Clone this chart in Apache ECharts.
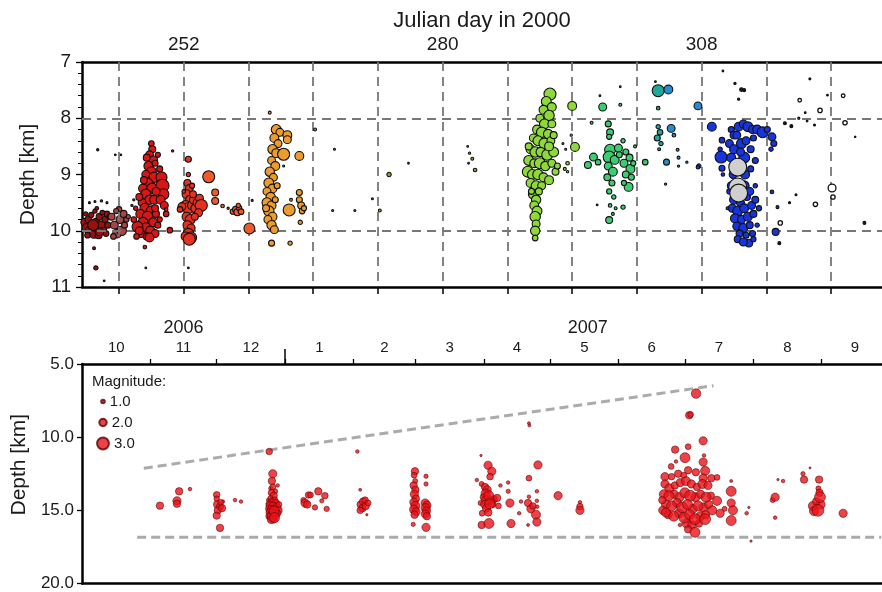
<!DOCTYPE html>
<html><head><meta charset="utf-8">
<script src="https://cdn.jsdelivr.net/npm/echarts@6/dist/echarts.min.js"></script>
<style>html,body{margin:0;padding:0;background:#fff}#c{width:882px;height:592px}</style>
</head><body><div id="c"></div>
<script>
// ---------- TOP PANEL (Julian day in 2000) ----------
const dayTicks = [245,252,259,266,273,280,287,294,301,308,315,322];
const dayLabels = [252,280,308];
const depthGuides = [8,10];
// [day, depth km, magnitude]
const clusterA = [[241.3,9.85,2],[241.5,9.95,2.2],[241.7,9.8,1.8],[241.9,10.0,2.5],[242.1,9.9,2],[242.3,10.05,2.3],[242.5,9.85,2],[242.7,9.95,2.4],[242.9,9.75,1.8],[243.1,9.9,2],[243.3,10.0,1.8],[243.5,9.8,1.6],[243.7,9.7,1.5],[241.6,10.08,1.5],[242.0,9.72,1.4],[242.4,9.65,1.2],[242.8,10.08,1.8],[243.2,9.68,1.3],[243.8,9.9,1.6],[244.0,9.75,1.4],[241.4,9.7,1.2],[242.6,9.6,1.0],[243.6,10.05,1.5],[242.2,9.9,2.6],[242.9,10.02,2.0],[241.8,9.5,0.5],[242.4,9.48,0.5],[243.1,9.47,0.6],[243.7,9.5,0.5],[242.7,8.56,0.6],[242.3,10.31,0.8],[242.5,10.66,1.2],[243.4,10.89,0.4],[244.6,8.65,0.4],[245.2,8.65,0.4]];
const clusterB = [[244.2,9.75,1.8],[244.5,9.9,2],[244.8,10.05,2.2],[245.1,9.8,2],[245.3,10.0,2.3],[245.5,9.7,1.8],[244.4,10.1,1.5],[245.0,9.62,1.5],[245.6,9.9,1.6],[244.7,9.65,1.4],[245.8,9.8,1.4],[246.0,9.75,1.2]];
const clusterC = [[248.5,8.45,1.5],[248.6,8.55,1.8],[248.3,8.65,2],[248.7,8.75,2.2],[248.2,8.85,2.3],[248.5,8.95,2.4],[247.9,9.0,2],[248.8,9.05,2.5],[248.1,9.15,2.4],[247.6,9.25,2.2],[248.6,9.25,2.6],[247.9,9.35,2.5],[248.3,9.45,2.3],[247.5,9.5,2],[248.8,9.45,2.2],[247.8,9.6,2.4],[248.5,9.65,2.5],[247.3,9.7,2.2],[248.1,9.75,2.6],[247.6,9.85,2.4],[248.7,9.85,2.2],[247.9,9.95,2.5],[248.4,10.0,2.3],[247.4,10.05,2],[248.0,10.1,1.8],[249.0,9.7,1.8],[249.2,9.9,1.6],[247.0,9.93,2.6],[246.6,9.8,1.5],[246.8,9.6,1.2],[249.6,9.05,2.6],[249.7,9.2,3],[249.8,9.35,2.6],[249.5,9.45,2.2],[249.9,9.55,2],[250.1,9.7,1.5],[249.4,8.9,1.6],[249.2,8.65,1.4],[250.8,8.58,0.6],[247.8,10.29,1],[247.9,10.66,0.4],[250.5,9.99,1.5],[250.1,9.62,1],[246.6,9.45,0.6],[246.4,9.55,0.6],[248.0,8.7,1.8],[248.9,8.8,1.6],[247.7,9.1,1.8],[249.0,9.3,2],[247.2,9.4,1.8],[248.9,9.6,1.8],[247.2,10.0,2],[248.9,10.05,2],[248.3,10.12,2.2],[246.9,10.1,1.5],[249.4,9.8,1.4]];
const clusterD = [[252.5,8.73,1.6],[252.5,9.0,1.2],[252.4,9.15,1.8],[252.6,9.25,2],[252.3,9.35,2.2],[252.7,9.45,2.3],[252.2,9.55,2.4],[252.5,9.6,2.6],[252.9,9.55,2.2],[252.3,9.75,2.2],[252.7,9.8,2.4],[252.4,9.9,2.2],[252.8,9.95,2],[252.5,10.05,2.5],[252.2,10.1,2.2],[252.8,10.12,2.6],[252.6,10.15,2.8],[251.8,9.57,2],[251.6,9.62,1.5],[253.1,9.45,2.2],[253.3,9.6,2.4],[253.5,9.5,2.2],[253.7,9.42,2],[253.9,9.55,2.8],[253.6,9.68,2],[253.2,9.75,1.8],[253.0,9.35,1.8],[252.9,9.2,1.4],[252.5,10.66,0.4],[252.0,9.3,1]];
const clusterE = [[254.7,9.04,2.8],[255.4,9.32,1.8],[255.4,9.47,1.8],[256.2,9.56,1],[257.3,9.66,1.4],[257.6,9.62,1.6],[257.8,9.67,1.8],[258.0,9.6,1.4],[258.2,9.66,1.5],[257.9,9.55,1.2],[259.1,9.96,2.6],[259.4,9.46,0.5],[256.8,9.6,0.6]];
const clusterF = [[262.0,8.2,2.4],[262.4,8.25,2],[261.8,8.35,2.2],[262.2,8.45,2],[261.6,8.55,2.3],[262.0,8.62,2.2],[262.8,8.64,2.8],[261.5,8.75,2],[261.9,8.85,2.2],[261.3,8.95,2.3],[261.7,9.05,2],[261.2,9.15,2.4],[261.6,9.25,2.2],[261.0,9.3,2],[261.4,9.4,2.3],[261.0,9.5,2.4],[261.5,9.55,2.2],[261.2,9.65,2.5],[261.6,9.75,2.2],[261.1,9.8,2],[261.5,9.9,2.3],[261.8,9.98,2],[260.9,9.6,1.8],[261.9,9.45,1.6],[262.1,9.2,1.6],[263.2,8.3,2.2],[263.2,8.38,2],[264.5,8.67,2.2],[263.4,9.63,2.8],[264.5,9.32,1.6],[264.5,9.45,1.6],[264.7,9.55,1.8],[264.8,9.65,1.5],[265.0,9.6,1.4],[264.6,9.85,1.2],[261.5,10.22,1.6],[263.5,10.22,1.2],[261.3,7.9,0.8],[263.6,9.45,0.8],[262.8,8.85,0.5]];
const clusterG = [[266.2,8.2,0.8],[268.3,8.55,0.5],[268.1,9.64,0.5],[270.5,9.64,0.5],[272.4,9.43,0.5],[273.2,9.64,0.8],[274.2,9.0,1.2],[276.3,8.8,0.4],[282.7,8.5,0.4],[282.9,8.62,0.6],[283.2,8.72,0.8],[283.5,8.92,1],[282.8,8.8,0.4]];
const clusterH = [[291.6,7.57,2.8],[291.2,7.7,2.4],[291.8,7.8,2.2],[290.9,7.85,2.2],[291.5,7.95,2.5],[290.5,8.0,2],[291.0,8.1,2.4],[291.8,8.1,2],[290.2,8.2,2.2],[290.7,8.25,2.5],[291.4,8.28,2.3],[289.8,8.35,2],[290.3,8.4,2.4],[291.0,8.45,2.6],[291.7,8.4,2],[289.5,8.55,2.2],[290.0,8.6,2.5],[290.6,8.6,2.3],[291.3,8.65,2.6],[292.0,8.6,2.4],[289.3,8.75,2.4],[289.9,8.8,2.2],[290.5,8.8,2.6],[291.1,8.85,2.3],[291.8,8.8,2],[289.2,8.95,2.6],[289.7,9.0,2.4],[290.3,9.0,2.5],[290.9,9.05,2.2],[291.5,9.1,2.2],[292.2,8.95,1.8],[289.5,9.15,2.2],[290.1,9.2,2.4],[290.7,9.2,2],[289.3,8.5,1.8],[291.5,8.5,2.2],[292.0,8.3,1.8],[292.4,8.85,1.6],[289.8,9.35,2.4],[290.1,9.45,2.3],[289.9,9.55,2.2],[290.2,9.65,2.4],[290.0,9.75,2.5],[290.1,9.88,2],[290.0,10.0,2.3],[290.0,10.13,1.5],[290.4,9.3,1.8],[289.6,9.3,1.6],[294.0,7.78,2.2],[294.3,8.51,2.2],[293.5,8.8,1],[293.2,8.9,0.8],[293.5,8.95,0.6],[293.0,8.45,0.5],[293.3,8.55,0.5],[293.9,8.3,0.6]];
const clusterI = [[297.3,7.8,2],[297.0,7.6,0.4],[299.2,7.44,0.4],[299.2,7.76,0.8],[296.1,8.08,0.8],[297.9,8.1,1.6],[298.1,8.25,1.8],[298.0,8.33,1.4],[298.1,8.56,2.6],[298.0,8.69,2.8],[298.6,8.74,2.2],[299.0,8.53,2],[296.3,8.69,2],[295.7,8.83,1.8],[296.8,8.78,1.5],[297.9,8.85,2],[298.4,8.95,2.2],[297.8,9.05,1.8],[298.3,9.15,1.6],[298.0,9.3,1.4],[298.5,9.4,1.2],[298.1,9.55,1],[298.4,9.7,0.8],[299.5,8.4,1.2],[299.8,8.6,1.6],[300.2,8.7,1.8],[299.6,8.8,2],[300.3,8.9,2.2],[299.8,9.0,1.8],[300.4,9.05,1.6],[300.1,9.22,2.2],[299.6,9.15,1.4],[300.6,8.8,1.4],[298.0,9.81,1.8],[299.5,9.58,1.2],[296.7,9.54,0.4],[301.9,8.78,1.5],[300.8,8.5,0.8],[299.1,8.65,1.6],[298.7,9.6,0.8]];
const clusterJ = [[303.3,7.51,2.8],[303.3,7.82,1],[303.0,7.35,0.4],[303.3,8.15,1.2],[303.5,8.25,1.5],[303.2,8.35,1.6],[303.6,8.45,1.2],[303.4,8.55,0.8]];
const clusterK = [[304.4,7.49,2.2],[304.7,8.18,2],[305.0,8.3,1],[304.2,8.78,1.6],[305.4,8.56,0.8],[306.4,8.78,0.6],[304.1,9.17,0.6],[305.5,8.85,0.6],[305.5,8.7,0.8],[307.6,7.78,2],[307.7,8.85,1.2]];
const clusterL = [[309.1,8.15,2.2],[310.2,8.39,1.5],[310.1,8.69,2.8],[310.2,8.89,1.6],[310.0,8.55,1.2],[310.3,9.0,1],[307.6,8.87,1],[311.2,8.2,1.6],[311.5,8.3,2],[312.0,8.15,2.2],[312.5,8.1,2],[313.0,8.15,2.4],[313.5,8.2,2],[314.0,8.2,2.2],[314.6,8.25,2.6],[315.1,8.2,1.6],[315.6,8.33,2],[315.8,8.45,1.6],[315.5,8.55,1.2],[311.0,8.45,2],[311.5,8.55,2.2],[312.3,8.45,2.4],[312.8,8.4,2],[313.3,8.55,1.8],[311.2,8.7,2.2],[312.6,8.7,2.6],[311.4,9.0,2],[312.7,9.0,2.2],[313.3,8.9,1.6],[311.2,9.2,2],[312.6,9.2,2.4],[311.5,9.45,2.2],[312.2,9.5,2],[312.9,9.4,1.8],[311.3,9.6,2],[311.9,9.65,2.4],[312.6,9.6,2.2],[313.4,9.55,2],[311.6,9.78,2.2],[312.3,9.8,2],[313.0,9.75,2.2],[313.6,9.7,1.8],[311.8,9.92,2],[312.5,9.95,2.2],[313.2,9.9,1.8],[312.1,10.05,1.8],[312.8,10.08,1.6],[313.1,10.22,2],[316.0,10.02,1.8],[315.6,9.31,1],[316.2,9.58,0.8],[313.8,9.2,1.2],[314.0,9.9,1.2],[311.0,9.3,1.4],[310.8,9.6,0.8],[311.8,8.3,2],[313.6,8.35,1.6],[311.7,8.9,2.4],[312.2,8.6,2],[313.8,8.75,1.6],[311.6,9.3,2],[313.2,9.3,2],[312.0,9.15,2.2],[313.8,9.45,1.8],[311.9,10.15,1.8],[312.5,10.2,2],[313.5,10.05,1.6],[314.2,9.6,1.4],[313.6,10.15,1.4]];
const clusterGray = [[311.9,8.87,3.8],[311.9,9.22,3.8],[312.0,9.33,3.8]];
const clusterWhite = [[318.6,7.68,1],[319.7,7.3,0.4],[320.8,7.86,1.2],[323.3,7.6,1],[323.5,8.08,1.2],[322.1,9.24,2],[322.2,9.4,1.2],[320.3,9.53,1.2],[316.5,9.86,1.2],[318.5,8.0,0.5]];
const clusterDark = [[310.3,7.16,0.4],[311.6,7.38,0.6],[312.3,7.49,1],[312.6,7.5,0.8],[312.0,7.66,0.6],[316.4,10.22,0.8],[325.6,9.86,0.8],[324.6,8.33,0.3],[321.6,7.59,0.4],[317.0,8.09,0.8],[317.7,8.14,0.8],[318.2,9.36,0.5],[319.2,7.9,0.4],[319.4,8.05,0.4],[320.2,8.12,0.5],[317.5,9.5,0.5]];

// ---------- BOTTOM PANEL (days since 2006-10-01) ----------
const monthStarts = [0,31,61,92,123,151,182,212,243,273,304,335,365];
const monthNames = ['10','11','12','1','2','3','4','5','6','7','8','9'];
const yearBreak = [92];
const yearLabelPos = [46,229];
const yearNames = ['2006','2007'];
const magLegend = ['1.0','2.0','3.0'];
const upperTrend = [[28,12.12],[286,6.48]];
const lowerTrend = [[25,16.84],[362,16.84]];
// [day since 2006-10-01, depth km, magnitude]
const quakes0607 = [[35.3,14.68,2],[43,14.35,2.2],[43,14.55,2],[44,13.7,2],[48.9,13.55,1],
[61,13.94,1.8],[61,14.2,1.5],[61.2,14.6,2],[62.5,14.75,2],[61.5,15.0,2],[63.4,14.85,2],[62.8,14.45,1.6],[61,15.36,2],[62.5,16.2,2],[63.8,14.4,1],[69.3,14.3,1],[72,14.4,1],
[84.8,10.98,1.8],[86.4,12.5,2.2],[86.0,13.0,2],[86.4,13.4,1.6],[88.6,13.3,1],[85.8,13.8,1.8],[86.8,14.0,2],[85.4,14.2,1.6],[87.2,14.3,1.8],[86.0,14.45,2],[84.6,14.55,1.6],[87.8,14.5,2],[85.2,14.7,2.2],[86.6,14.75,2.4],[88.2,14.8,2.2],[84.8,14.9,2],[85.9,15.0,2.4],[87.0,15.05,2.6],[88.6,15.0,2.4],[85.2,15.15,2.2],[86.4,15.25,2.4],[87.6,15.3,2.2],[84.9,15.4,2],[86.0,15.45,2.4],[87.2,15.5,2.6],[86.6,15.6,2.2],[85.6,15.65,2],[88.8,15.2,1.6],[89.2,14.6,1.6],[84.5,14.3,1.2],[87.5,13.7,1.4],[85.5,13.5,1.2],
[100.3,14.3,1.5],[101,14.5,2.2],[102,14.6,2],[102.6,13.95,1.8],[107,13.7,2],[105.5,14.8,1.5],[110,14.0,1.8],[108.6,14.35,1.2],[110.8,14.9,1.5],[103.5,13.95,1.6],
[124.7,10.98,1],[126,13.6,0.8],[126.2,14.6,2],[127.3,14.4,2],[128.2,14.3,1.8],[127,14.85,2],[126,15.0,1.8],[128.5,14.7,2],[129.6,14.5,1.6],[129,15.3,0.6],
[150.8,12.33,2],[150.4,12.6,1.6],[150.9,13.0,1.4],[150.2,13.3,2],[151.0,13.6,2],[150.5,13.9,2.2],[151.2,14.2,2],[150.3,14.45,2.2],[151.0,14.7,2.4],[150.4,14.95,2.4],[151.3,15.1,2.2],[150.6,15.3,2],[150.0,15.96,1.2],
[155.8,12.67,1.2],[155.8,13.2,1.2],[155.4,14.5,2.2],[156.2,14.65,2.2],[155.6,14.85,2.4],[156.0,15.05,2.2],[155.5,15.25,2.2],[156.2,15.4,2],[155.8,16.16,2.2],
[180.7,11.25,0.6],[178.8,12.93,1],[183.9,11.92,2.2],[185.6,12.33,2.2],[184.8,12.7,1.8],[181,13.2,1.4],[182.5,13.4,2],[183.5,13.6,2.2],[182.8,13.85,2.4],[184.2,14.0,2.6],[181.8,14.1,1.8],[183.0,14.3,2.4],[185.0,14.3,2.2],[186.5,14.25,2],[188.0,14.15,2],[182.4,14.6,2.2],[184.6,14.55,2.6],[186.0,14.6,1.8],[180.5,14.5,1.4],[183.2,14.85,2.2],[181.2,15.2,1.6],[184.0,15.15,2],[181,16.0,2],[184.3,15.9,2.6],[189.5,13.3,1],[188.6,14.7,1.6],
[193,13.1,1],[193,13.7,1.2],[193.8,14.5,2.2],[194.3,15.9,2.2],[198,15.2,1],[198.8,14.4,1],
[202.4,9.05,0.8],[202.6,9.2,0.8],[202.4,12.8,1.6],[202.4,14.07,1],[202,14.5,2],[203.3,14.9,2.2],[204.2,14.7,1.8],[206,13.7,1],[206,14.35,1],[205.6,15.3,2.4],[206,15.8,2.2],[206.5,11.9,2.2],[202,16.0,0.8],[206.2,14.75,1],
[215.6,14.0,2.2],[225.5,14.45,1],[225.5,14.75,1.8],[225.5,15.0,2.2],
[278.1,7.02,2.5],[275,8.5,2],[275.6,8.45,1.6],[281.3,10.25,2.2],[274.5,10.65,1.6],[268.6,10.85,2],[273.1,11.4,2.6],[281.7,11.25,1],[269,11.66,1],[281.3,11.7,2.2],[266.8,12.0,1.6],[274.5,12.26,2],[282.2,12.3,2.4],[264,12.7,2.2],[281.3,12.8,2.2],
[264.0,13.2,2.2],[266.0,13.5,2.4],[268.5,13.3,2],[271.0,13.1,2.2],[273.5,13.0,2.4],[276.0,13.2,2.2],[278.5,13.4,2],[281.0,13.2,2.4],[283.5,13.3,2.2],[263.5,13.9,2.4],[265.8,14.0,2.6],[268.2,13.9,2.2],[270.6,14.1,2.4],[273.0,13.8,2.6],[275.4,14.0,2.8],[277.8,14.1,2.4],[280.2,13.9,2.2],[282.6,14.1,2.6],[284.8,14.0,2],[264.5,14.6,2.4],[267.0,14.7,2.6],[269.4,14.5,2.4],[271.8,14.8,2.8],[274.2,14.6,2.6],[276.6,14.9,2.4],[279.0,14.7,2.6],[281.4,14.8,2.4],[283.8,14.6,2.2],[265.5,15.3,2.2],[268.0,15.4,2.6],[270.4,15.2,2.4],[272.8,15.5,2.8],[275.2,15.3,2.6],[277.6,15.6,2.8],[280.0,15.4,2.4],[282.4,15.3,2.2],[273.8,15.9,2.4],[276.2,16.0,2.2],[279.4,15.9,2],[267.0,12.7,1.8],[270.0,12.5,2],[272.5,12.6,1.6],[278.0,12.4,2],[285.0,12.8,2],[262.8,14.3,2],[285.4,15.0,2.4],[263.0,15.0,2.2],
[277.6,16.5,2.6],[274.5,16.3,2],[270.8,16.0,1],[282.2,15.6,2.8],[264.5,15.15,2.4],
[294,13.0,0.8],[294,13.7,2.6],[294,14.5,2.2],[294.8,15.0,2.4],[294,15.7,2.6],[289,15.2,2.2],[287.6,14.35,2.4],[287.6,12.75,1.6],[291,14.9,1.4],[301,15.2,1],[302,14.8,0.6],[303,17.1,0.6],
[313.9,14.1,2.2],[312.8,14.3,1.4],[313.9,15.5,1],[315.2,12.9,0.6],[317.5,13.0,1],
[326.5,12.5,1.2],[327,12.9,2],[329.7,12.1,0.5],[333.8,12.9,2],[333.5,13.5,1.4],[334.2,14.1,2.8],[334.0,13.8,2],[331,14.7,2.4],[333.3,15.0,3],[331.5,15.05,2.4],[334.5,14.6,2.4],[332.5,14.4,2],[344.7,15.2,2.2]];

// ---------- build ----------
const FONT = 'Liberation Sans, Arial, sans-serif';
const TXT = '#1a1a1a';
const topSize = v => 1 + 2.6 * Math.pow(v[2], 1.4);
const botSizeMag = m => 1 + 2.6 * Math.pow(m, 1.3);
const monthMid = monthStarts.slice(0, 12).map((s, i) => (s + monthStarts[i + 1]) / 2);
const nearestIdx = (arr, v) => { let b = 0; arr.forEach((a, i) => { if (Math.abs(a - v) < Math.abs(arr[b] - v)) b = i; }); return b; };

const topClusters = [
  [clusterA, '#9a1010'], [clusterB, '#a84444'], [clusterC, '#d81616'], [clusterD, '#e43220'],
  [clusterE, '#f05a2a'], [clusterF, '#ec9c2c'], [clusterG, '#9a9a3a'], [clusterH, '#8ed83a'],
  [clusterI, '#3ccc72'], [clusterJ, '#1fa89a'], [clusterK, '#2a8ad0'], [clusterL, '#1834dc'],
  [clusterGray, '#cfcfcf'], [clusterWhite, '#ffffff'], [clusterDark, '#1a1a1a']
];

const series = [];
series.push({
  type: 'line', xAxisIndex: 0, yAxisIndex: 0, data: [], z: 1, silent: true,
  markLine: {
    silent: true, symbol: ['none', 'none'], label: { show: false },
    lineStyle: { type: [9, 6], color: '#777', width: 1.8 },
    data: dayTicks.map(d => ({ xAxis: d })).concat(depthGuides.map(v => ({ yAxis: v })))
  }
});
topClusters.forEach(([arr, col], i) => {
  series.push({
    type: 'scatter', xAxisIndex: 0, yAxisIndex: 0, z: 3 + i, data: arr,
    symbolSize: topSize,
    itemStyle: { color: col, borderColor: '#101010', borderWidth: col === '#ffffff' ? 1.3 : 1.1, opacity: 1 }
  });
});
series.push({ type: 'line', xAxisIndex: 2, yAxisIndex: 1, data: upperTrend, symbol: 'none', z: 2, silent: true,
  lineStyle: { type: [9, 5], color: '#ababab', width: 3 } });
series.push({ type: 'line', xAxisIndex: 2, yAxisIndex: 1, data: lowerTrend, symbol: 'none', z: 2, silent: true,
  lineStyle: { type: [9, 5], color: '#ababab', width: 3 } });
const magClass = m => (m < 1.5 ? 0 : (m < 2.5 ? 1 : 2));
magLegend.forEach((name, k) => {
  series.push({
    name, type: 'scatter', xAxisIndex: 2, yAxisIndex: 1, z: 5,
    data: quakes0607.filter(q => magClass(q[2]) === k),
    symbolSize: v => botSizeMag(v[2]),
    itemStyle: { color: '#e8141a', borderColor: '#5a0000', borderWidth: 0.7 }
  });
});

const legendCenters = [402, 423, 444];
const legends = magLegend.map((name, k) => {
  const s = botSizeMag(parseFloat(name));
  return {
    data: [name], left: 102 - s / 2, top: legendCenters[k] - 8, icon: 'circle',
    itemWidth: s, itemHeight: s, selectedMode: false, padding: 0,
    textStyle: { fontSize: 15, fontFamily: FONT, color: TXT, padding: [0, 0, 0, 0] }
  };
});

const thickLine = { show: true, lineStyle: { color: '#000', width: 2.5 } };

const option = {
  animation: false,
  backgroundColor: '#fff',
  title: { text: 'Magnitude:', left: 92, top: 374, padding: 0,
    textStyle: { fontSize: 15, fontWeight: 'normal', fontFamily: FONT, color: TXT } },
  legend: legends,
  grid: [
    { left: 82, top: 62, right: 0, height: 225 },
    { left: 82, top: 364, right: 0, height: 223 }
  ],
  xAxis: [
    { gridIndex: 0, type: 'value', position: 'top', min: 241, max: 327.5,
      name: 'Julian day in 2000', nameLocation: 'middle', nameGap: 30,
      nameTextStyle: { fontSize: 22, fontFamily: FONT, color: TXT },
      axisLine: thickLine, axisTick: { show: false }, splitLine: { show: false },
      axisLabel: { customValues: dayLabels, fontSize: 19, fontFamily: FONT, color: TXT, margin: 8 } },
    { gridIndex: 0, type: 'value', position: 'bottom', min: 241, max: 327.5,
      axisLine: thickLine, splitLine: { show: false },
      axisTick: { customValues: dayTicks, length: 7, lineStyle: { color: '#000', width: 1.5 } },
      axisLabel: { show: false } },
    { gridIndex: 1, type: 'value', position: 'top', min: 0, max: 362.3,
      axisLine: thickLine, splitLine: { show: false },
      axisTick: { customValues: monthStarts.slice(1, 12), length: 5, lineStyle: { color: '#000', width: 1.3 } },
      axisLabel: { customValues: monthMid, fontSize: 15, fontFamily: FONT, color: TXT, margin: 9,
        formatter: v => monthNames[nearestIdx(monthMid, v)] } },
    { gridIndex: 1, type: 'value', position: 'top', min: 0, max: 362.3,
      axisLine: { show: false }, splitLine: { show: false },
      axisTick: { customValues: yearBreak, length: 15, lineStyle: { color: '#000', width: 1.5 } },
      axisLabel: { show: false } },
    { gridIndex: 1, type: 'value', position: 'top', min: 0, max: 362.3,
      axisLine: { show: false }, splitLine: { show: false }, axisTick: { show: false },
      axisLabel: { customValues: yearLabelPos, fontSize: 18, fontFamily: FONT, color: TXT, margin: 27,
        formatter: v => yearNames[nearestIdx(yearLabelPos, v)] } },
    { gridIndex: 1, type: 'value', position: 'bottom', min: 0, max: 362.3,
      axisLine: thickLine, splitLine: { show: false }, axisTick: { show: false }, axisLabel: { show: false } }
  ],
  yAxis: [
    { gridIndex: 0, type: 'value', inverse: true, min: 7, max: 11, interval: 1,
      name: 'Depth [km]', nameLocation: 'middle', nameGap: 32,
      nameTextStyle: { fontSize: 21, fontFamily: FONT, color: TXT },
      axisLine: thickLine, splitLine: { show: false },
      axisTick: { length: 6, lineStyle: { color: '#000', width: 1.3 } },
      minorTick: { show: true, splitNumber: 5, length: 4, lineStyle: { color: '#000', width: 1 } },
      axisLabel: { fontSize: 19, fontFamily: FONT, color: TXT, margin: 11 } },
    { gridIndex: 1, type: 'value', inverse: true, min: 5, max: 20, interval: 5,
      name: 'Depth [km]', nameLocation: 'middle', nameGap: 52,
      nameTextStyle: { fontSize: 21, fontFamily: FONT, color: TXT, padding: [0, 0, 0, 18] },
      axisLine: thickLine, splitLine: { show: false },
      axisTick: { length: 5, lineStyle: { color: '#000', width: 1.3 } },
      axisLabel: { fontSize: 17, fontFamily: FONT, color: TXT, margin: 8, formatter: v => v.toFixed(1) } }
  ],
  series
};
echarts.init(document.getElementById('c'), null, { renderer: 'canvas' }).setOption(option);
</script></body></html>
